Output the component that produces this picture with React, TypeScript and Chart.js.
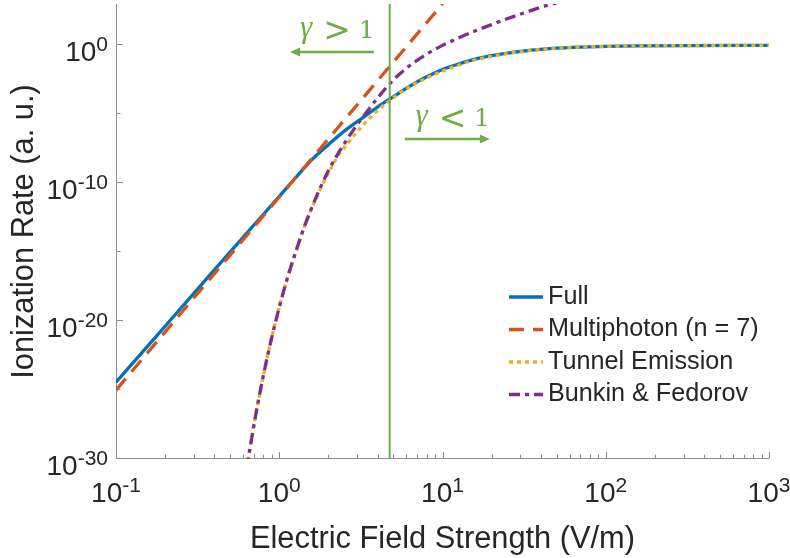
import React, { useEffect, useRef } from 'react';
import { Chart, registerables } from 'chart.js';

Chart.register(...registerables);

// ---------------- data ----------------
const fullField = [0.1, 0.178, 0.316, 0.562, 1, 1.26, 1.58, 2, 2.51, 3.16, 3.98, 5.01, 6.31, 7.94, 10, 12.6, 15.8, 20, 25.1, 31.6, 39.8, 50.1, 63.1, 100, 158, 316, 1000];
const fullRate = [3.7e-25, 8.9e-22, 2.1e-18, 5.0e-15, 1.1e-11, 2.5e-10, 5.0e-9, 6.3e-8, 6.3e-7, 4.5e-6, 3.2e-5, 1.9e-4, 1.1e-3, 5.0e-3, 0.018, 0.045, 0.1, 0.178, 0.275, 0.39, 0.51, 0.63, 0.72, 0.85, 0.92, 0.97, 1.0];

const multiField = [0.1, 0.316, 1, 3.16, 10];
const multiRate = [1e-25, 1e-18, 1e-11, 1e-4, 1e3];

const tunnelField = [0.631, 0.708, 0.794, 0.891, 1, 1.12, 1.26, 1.41, 1.58, 1.78, 2, 2.24, 2.51, 3.16, 3.98, 5.01, 6.31, 7.94, 10, 12.6, 15.8, 20, 25.1, 31.6, 39.8, 50.1, 63.1, 100, 158, 316, 1000];
const tunnelRate = [2.0e-31, 6.3e-28, 7.9e-25, 4.0e-22, 1.0e-19, 1.26e-17, 1.0e-15, 5.0e-14, 1.6e-12, 3.5e-11, 5.6e-10, 6.3e-9, 4.0e-8, 1.1e-6, 1.8e-5, 1.6e-4, 1.0e-3, 4.2e-3, 0.0135, 0.038, 0.087, 0.158, 0.257, 0.37, 0.5, 0.62, 0.72, 0.85, 0.92, 0.97, 1.0];

const bunkinField = [0.631, 0.708, 0.794, 0.891, 1, 1.12, 1.26, 1.41, 1.58, 1.78, 2, 2.24, 2.51, 2.82, 3.16, 3.98, 5.01, 6.31, 7.94, 10, 12.6, 15.8, 20, 25.1, 31.6, 39.8, 50.1];
const bunkinRate = [2.0e-31, 6.3e-28, 7.9e-25, 4.0e-22, 1.0e-19, 1.26e-17, 1.0e-15, 5.0e-14, 1.6e-12, 4.5e-11, 7.9e-10, 8.9e-9, 7.9e-8, 6.3e-7, 4.0e-6, 1.4e-4, 3.2e-3, 0.035, 0.22, 1.0, 3.5, 11, 32, 89, 224, 562, 1260];

const gammaField = 4.75; // gamma = 1 boundary
const gammaLineRate = [1e-30, 1e3];

const seriesLabels = ['Full', 'Multiphoton (n = 7)', 'Tunnel Emission', 'Bunkin & Fedorov'];
const xTickExponents = [-1, 0, 1, 2, 3];
const yTickExponents = [-30, -20, -10, 0];
const yMinorExponents = [-25, -15, -5];
const xLabel = 'Electric Field Strength (V/m)';
const yLabel = 'Ionization Rate (a. u.)';

// annotation anchors (data coordinates)
const leftNote = { text: ['γ', '>', '1'], x: 2.2, y: 3.4, arrowFrom: 3.8, arrowTo: 1.165, arrowY: 0.33 };
const rightNote = { text: ['γ', '<', '1'], x: 11.2, y: 1.4e-6, arrowFrom: 5.89, arrowTo: 19.5, arrowY: 1.6e-7 };

// ---------------- styles ----------------
const FONT = '"Liberation Sans", Arial, Helvetica, sans-serif';
const SERIF = '"Liberation Serif", "DejaVu Serif", serif';
const TEXT = '#262626';
const AXIS = '#8c8c8c';
const GREEN = '#70ad47';
const BLUE = '#0072bd';
const ORANGE = '#d95319';
const YELLOW = '#edb120';
const PURPLE = '#7e2f8e';

const pts = (xs: number[], ys: number[]) => xs.map((v, i) => ({ x: v, y: ys[i] }));

function drawPow(ctx: CanvasRenderingContext2D, exp: number, x: number, y: number, align: 'right' | 'center') {
  const base = '10';
  const sup = String(exp);
  ctx.font = `28px ${FONT}`;
  const wb = ctx.measureText(base).width;
  ctx.font = `21px ${FONT}`;
  const ws = ctx.measureText(sup).width;
  const total = wb + ws;
  const x0 = align === 'right' ? x - total : x - total / 2;
  ctx.textAlign = 'left';
  ctx.textBaseline = 'alphabetic';
  ctx.fillStyle = TEXT;
  ctx.font = `28px ${FONT}`;
  ctx.fillText(base, x0, y);
  ctx.font = `21px ${FONT}`;
  ctx.fillText(sup, x0 + wb, y - 10);
}

const decor = {
  id: 'decor',
  beforeDatasetsDraw(chart: any) {
    const { ctx, chartArea: a, scales } = chart;
    const xs = scales.x;
    const ys = scales.y;
    ctx.save();
    ctx.strokeStyle = AXIS;
    ctx.lineWidth = 1;
    ctx.beginPath();
    const L = Math.round(a.left) + 0.5;
    const B = Math.round(a.bottom) - 0.5;
    ctx.moveTo(L, a.top);
    ctx.lineTo(L, B);
    ctx.lineTo(a.right, B);
    for (let k = -1; k <= 3; k++) {
      const px = Math.round(xs.getPixelForValue(Math.pow(10, k))) + 0.5;
      ctx.moveTo(px, B);
      ctx.lineTo(px, B - 6.5);
      if (k < 3) {
        for (let m = 2; m <= 9; m++) {
          const p2 = Math.round(xs.getPixelForValue(m * Math.pow(10, k))) + 0.5;
          ctx.moveTo(p2, B);
          ctx.lineTo(p2, B - 4);
        }
      }
    }
    for (const e of yTickExponents) {
      const py = Math.round(ys.getPixelForValue(Math.pow(10, e))) - 0.5;
      ctx.moveTo(L, py);
      ctx.lineTo(L + 6.5, py);
    }
    for (const e of yMinorExponents) {
      const py = Math.round(ys.getPixelForValue(Math.pow(10, e))) - 0.5;
      ctx.moveTo(L, py);
      ctx.lineTo(L + 4, py);
    }
    ctx.stroke();

    for (const e of xTickExponents) {
      drawPow(ctx, e, xs.getPixelForValue(Math.pow(10, e)), a.bottom + 43, 'center');
    }
    for (const e of yTickExponents) {
      drawPow(ctx, e, a.left - 8, ys.getPixelForValue(Math.pow(10, e)) + 16, 'right');
    }
    ctx.restore();
  },
  afterDatasetsDraw(chart: any) {
    const { ctx, chartArea: a, scales } = chart;
    const xs = scales.x;
    const ys = scales.y;
    ctx.save();

    // annotations
    for (const note of [leftNote, rightNote]) {
      const cx = xs.getPixelForValue(note.x);
      const by = ys.getPixelForValue(note.y);
      ctx.fillStyle = GREEN;
      ctx.textAlign = 'center';
      ctx.textBaseline = 'alphabetic';
      ctx.font = `italic 31px ${SERIF}`;
      ctx.fillText(note.text[0], cx - 29, by - 1);
      ctx.font = `33px "DejaVu Sans", sans-serif`;
      ctx.textBaseline = 'middle';
      ctx.fillText(note.text[1], cx + 2, by - 6);
      ctx.textBaseline = 'alphabetic';
      ctx.font = `25px "DejaVu Serif", serif`;
      ctx.fillText(note.text[2], cx + 31.5, by);
      const x1 = xs.getPixelForValue(note.arrowFrom);
      const x2 = xs.getPixelForValue(note.arrowTo);
      const ay = ys.getPixelForValue(note.arrowY);
      const dir = Math.sign(x2 - x1);
      ctx.strokeStyle = GREEN;
      ctx.lineWidth = 2.5;
      ctx.setLineDash([]);
      ctx.beginPath();
      ctx.moveTo(x1, ay);
      ctx.lineTo(x2 - dir * 6, ay);
      ctx.stroke();
      ctx.beginPath();
      ctx.moveTo(x2, ay);
      ctx.lineTo(x2 - dir * 10, ay - 4.5);
      ctx.lineTo(x2 - dir * 10, ay + 4.5);
      ctx.closePath();
      ctx.fill();
    }

    // legend
    const lx0 = a.right - 260;
    const ly0 = a.bottom - 162;
    const step = 32.5;
    chart.data.datasets.slice(0, 4).forEach((ds: any, i: number) => {
      const yy = ly0 + i * step;
      ctx.strokeStyle = ds.borderColor;
      ctx.lineWidth = ds.borderWidth;
      ctx.lineCap = 'butt';
      ctx.setLineDash(ds.borderDash || []);
      ctx.beginPath();
      ctx.moveTo(lx0, yy);
      ctx.lineTo(lx0 + 34, yy);
      ctx.stroke();
      ctx.setLineDash([]);
      ctx.fillStyle = TEXT;
      ctx.font = `25.2px ${FONT}`;
      ctx.textAlign = 'left';
      ctx.textBaseline = 'middle';
      ctx.fillText(ds.label, lx0 + 39, yy);
    });
    ctx.restore();
  },
};

export default function App() {
  const ref = useRef<HTMLCanvasElement>(null);
  useEffect(() => {
    const common = { pointRadius: 0, borderWidth: 3.3, fill: false, cubicInterpolationMode: 'monotone' as const, borderCapStyle: 'butt' as const, clip: 0 };
    const chart = new Chart(ref.current as HTMLCanvasElement, {
      type: 'line',
      data: {
        datasets: [
          { ...common, label: seriesLabels[0], data: pts(fullField, fullRate), borderColor: BLUE, backgroundColor: BLUE, order: 5 },
          { ...common, label: seriesLabels[1], data: pts(multiField, multiRate), borderColor: ORANGE, backgroundColor: ORANGE, borderDash: [15, 9], order: 4 },
          { ...common, label: seriesLabels[2], data: pts(tunnelField, tunnelRate), borderColor: YELLOW, backgroundColor: YELLOW, borderDash: [4, 4], order: 3 },
          { ...common, label: seriesLabels[3], data: pts(bunkinField, bunkinRate), borderColor: PURPLE, backgroundColor: PURPLE, borderDash: [11, 5, 4, 5], order: 2 },
          { ...common, label: 'γ = 1', data: gammaLineRate.map((r) => ({ x: gammaField, y: r })), borderColor: GREEN, backgroundColor: GREEN, borderWidth: 2, order: 1 },
        ],
      } as any,
      options: {
        animation: false,
        responsive: true,
        maintainAspectRatio: false,
        events: [],
        layout: { padding: { top: 4, right: 21, left: 0, bottom: 0 } },
        plugins: { legend: { display: false }, tooltip: { enabled: false } },
        scales: {
          x: {
            type: 'logarithmic',
            min: 0.1,
            max: 1000,
            grid: { display: false },
            border: { display: false },
            ticks: { display: false },
            title: { display: true, text: xLabel, color: TEXT, font: { family: FONT, size: 30.8 }, padding: { top: 0, bottom: 0 } },
            afterFit: (s: any) => { s.height = 99; },
          },
          y: {
            type: 'logarithmic',
            min: 1e-30,
            max: 1e3,
            grid: { display: false },
            border: { display: false },
            ticks: { display: false },
            title: { display: true, text: yLabel, color: TEXT, font: { family: FONT, size: 30.8 }, padding: { top: 6, bottom: 0 } },
            afterFit: (s: any) => { s.width = 116; },
          },
        },
      } as any,
      plugins: [decor],
    });
    return () => chart.destroy();
  }, []);
  return (
    <div style={{ position: 'fixed', left: 0, top: 0, width: 790, height: 558, background: '#fff' }}>
      <canvas ref={ref} />
    </div>
  );
}
